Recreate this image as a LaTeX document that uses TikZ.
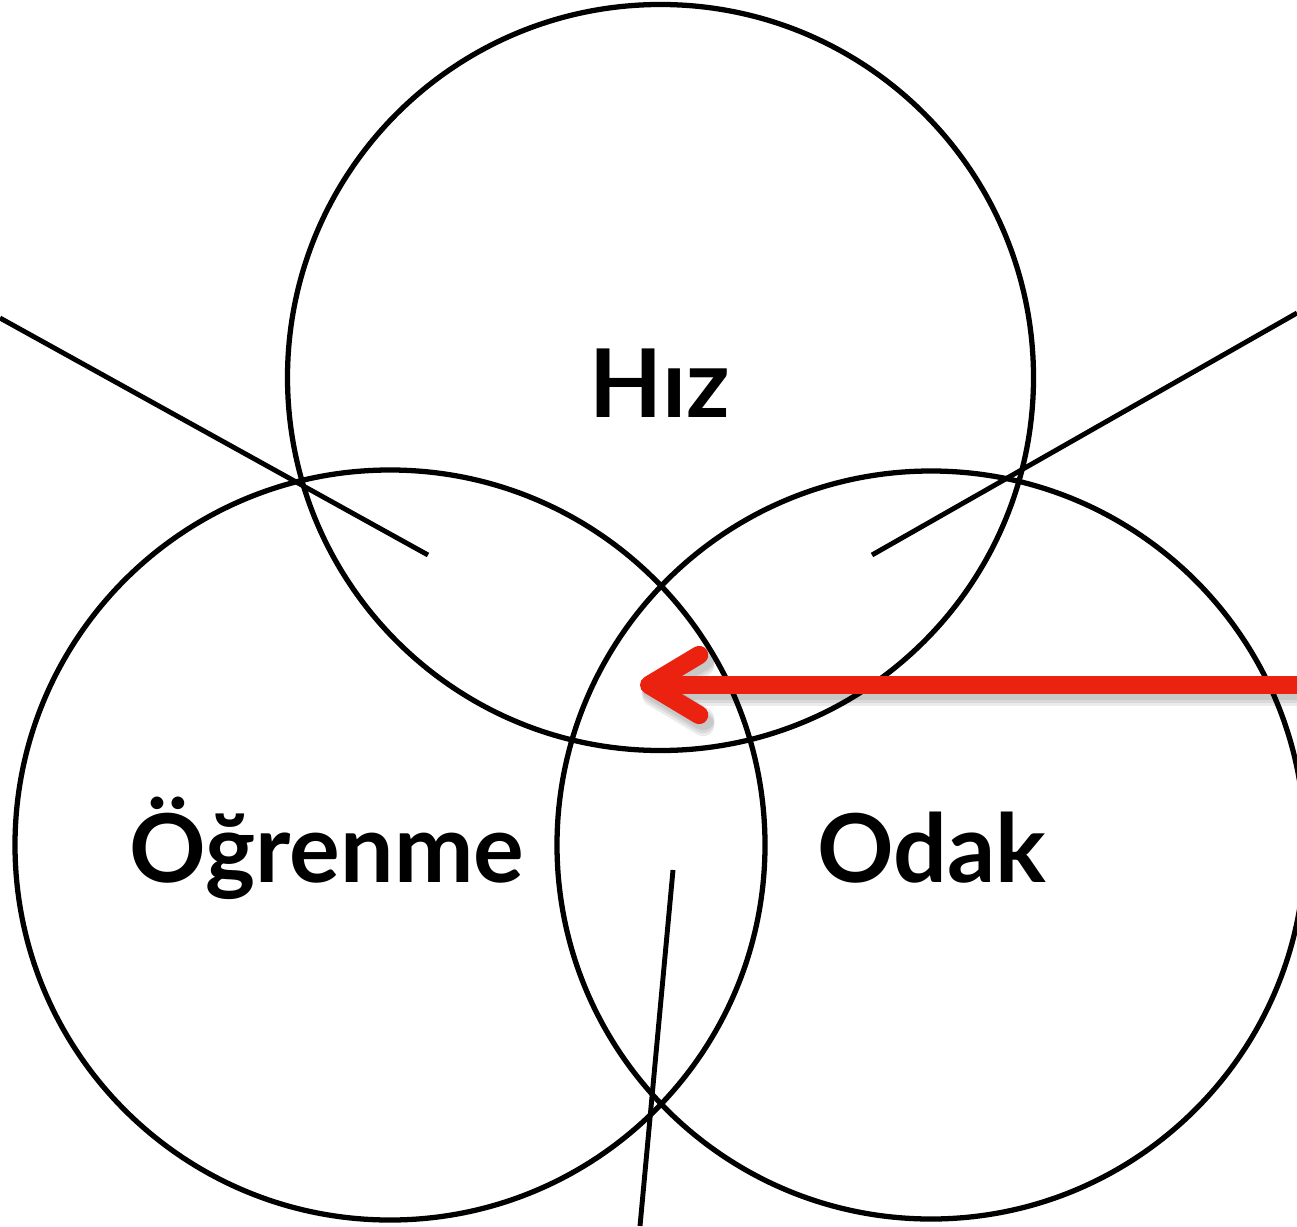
\documentclass[tikz,border=0pt]{standalone}
\usepackage{fontspec}
\setmainfont{Lato}
\usepackage{xcolor}
\usetikzlibrary{
    positioning,
    arrows.meta,
    calc
}
\definecolor{arrowred}{RGB}{236,34,16}

\begin{document}
\begin{tikzpicture}[font=\fontsize{27pt}{30pt}\selectfont\bfseries,
  ring/.style={draw, circle, line width=1.5pt, inner sep=0pt},
  lbl/.style={anchor=base, inner sep=0pt},
  ptr/.style={line width=1.4pt},
  redarr/.style={line width=5.2pt, draw=arrowred,
                 -{Straight Barb[length=0.5cm, width=0.6cm, round]}},
  shadowarr/.style={line width=6.4pt, draw=black, opacity=0.08,
                 -{Straight Barb[length=0.5cm, width=0.6cm, round]}}]

  \useasboundingbox (0,0) rectangle (12.97,12.26);

  % Three overlapping circles
  \node[ring, minimum size=7.46cm] (Chiz) at (6.605,8.485) {};
  \node[ring, minimum size=7.50cm] (Cogr) at (3.90,3.81) {};
  \node[ring, minimum size=7.48cm] (Codk) at (9.31,3.81) {};

  % Labels
  \node[lbl] (hiz) at (6.60,8.09) {Hız};
  \node[lbl] (ogrenme) at (3.27,3.44) {Öğrenme};
  \node[lbl] (odak) at (9.32,3.44) {Odak};

  % Pointer lines
  \coordinate (pL1) at (0,9.08);
  \coordinate (pL2) at (4.28,6.71);
  \coordinate (pR1) at (12.97,9.13);
  \coordinate (pR2) at (8.72,6.71);
  \coordinate (pB1) at (6.73,3.56);
  \coordinate (pB2) at (6.40,0);
  \draw[ptr] (pL1) -- (pL2);
  \draw[ptr] (pR1) -- (pR2);
  \draw[ptr] (pB1) -- (pB2);

  % Red arrow into the centre, with a soft shadow
  \coordinate (aS) at (12.97,5.41);
  \coordinate (aT) at (6.40,5.41);
  \foreach \d in {0.04,0.07,0.10}
    \draw[shadowarr] ($(aS)+(0,-\d)$) -- ($(aT)+(0.02,-\d)$);
  \draw[redarr] (aS) -- (aT);
\end{tikzpicture}
\end{document}
